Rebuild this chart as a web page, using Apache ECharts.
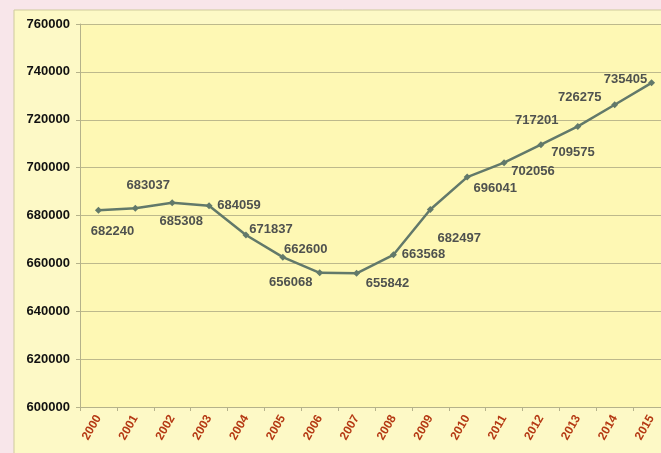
<!DOCTYPE html>
<html><head><meta charset="utf-8">
<script src="https://cdn.jsdelivr.net/npm/echarts@6/dist/echarts.min.js"></script>
<style>html,body{margin:0;padding:0;overflow:hidden;width:661px;height:453px;}#c{width:670px;height:453px;}</style>
</head><body><div id="c"></div>
<script>
const categories = ['2000','2001','2002','2003','2004','2005','2006','2007','2008','2009','2010','2011','2012','2013','2014','2015'];
const values = [682240,683037,685308,684059,671837,662600,656068,655842,663568,682497,696041,702056,709575,717201,726275,735405];
const yTicks = [600000,620000,640000,660000,680000,700000,720000,740000,760000];
// label offsets relative to each point (style only)
const labelOffsets = [[14,21],[13,-23],[9,19],[30,0],[25,-6],[23,-8],[-29,10],[31,10],[30,0],[29,29],[28,11],[29,9],[32,8],[-41,-6],[-35,-7],[-26,-3]];

const chart = echarts.init(document.getElementById('c'));
const data = values.map((v,i)=>({
  value: v,
  label: { position: 'inside', offset: labelOffsets[i] }
}));
chart.setOption({
  animation: false,
  backgroundColor: '#f8e6ea',
  graphic: [{
    type: 'rect', z: -1, shape: {x: 14, y: 10, width: 670, height: 450},
    style: {fill: '#fdf9c6', stroke: '#cfcb9c', lineWidth: 1}
  }],
  grid: {left: 80, right: 0, top: 24, bottom: 46, show: true, backgroundColor: '#fef8b4', borderWidth: 0},
  xAxis: {
    type: 'category', data: categories, boundaryGap: true,
    axisLine: {lineStyle: {color: '#b5b28a', width: 1}},
    axisTick: {show: true, length: 4, lineStyle: {color: '#b5b28a'}},
    axisLabel: {rotate: 60, color: '#b53a14', fontWeight: 'bold', fontSize: 12, fontFamily: 'Liberation Sans, Arial', margin: 9}
  },
  yAxis: {
    type: 'value', min: yTicks[0], max: yTicks[yTicks.length-1], interval: yTicks[1]-yTicks[0],
    axisLine: {show: true, lineStyle: {color: '#b5b28a'}},
    axisTick: {show: true, length: 4, lineStyle: {color: '#b5b28a'}},
    splitLine: {lineStyle: {color: '#bdb98c', width: 1}},
    axisLabel: {color: '#111', fontWeight: 'bold', fontSize: 13, fontFamily: 'Liberation Sans, Arial', margin: 10,
      formatter: v => String(v)}
  },
  series: [{
    type: 'line', data: data,
    symbol: 'diamond', symbolSize: 7,
    lineStyle: {color: '#62796a', width: 2.5},
    itemStyle: {color: '#62796a'},
    label: {show: true, color: '#4f524f', fontWeight: 'bold', fontSize: 13, fontFamily: 'Liberation Sans, Arial',
      align: 'center', verticalAlign: 'middle'}
  }]
});
</script></body></html>
